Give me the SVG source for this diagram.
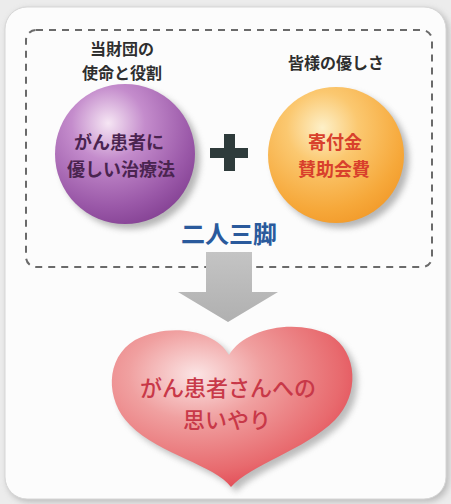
<svg xmlns="http://www.w3.org/2000/svg" width="451" height="504" viewBox="0 0 451 504">
<defs>
<style>
text{font-family:"Noto Sans CJK JP","Noto Sans CJK SC",sans-serif;text-anchor:middle;dominant-baseline:central}
.lbl{font-size:16px;font-weight:700;fill:#2e2e2e}
.pur{font-size:18px;font-weight:700;fill:#4a2450}
.org{font-size:18px;font-weight:700;fill:#d8402c}
.key{font-size:24px;font-weight:700;fill:#2a5a9c}
.hrt{font-size:22px;font-weight:500;fill:#c83848}
</style>
<radialGradient id="gP" cx="0.38" cy="0.28" r="0.75">
<stop offset="0" stop-color="#f6e6f4"/>
<stop offset="0.35" stop-color="#c48ccc"/>
<stop offset="0.8" stop-color="#9a58a8"/>
<stop offset="1" stop-color="#874496"/>
</radialGradient>
<radialGradient id="gO" cx="0.4" cy="0.3" r="0.75">
<stop offset="0" stop-color="#fdf0c8"/>
<stop offset="0.35" stop-color="#fbc870"/>
<stop offset="0.8" stop-color="#f6a83a"/>
<stop offset="1" stop-color="#f29a2a"/>
</radialGradient>
<radialGradient id="gH" cx="0.35" cy="0.3" r="0.8">
<stop offset="0" stop-color="#fbe4e4"/>
<stop offset="0.35" stop-color="#f0a0a0"/>
<stop offset="0.75" stop-color="#e86a6e"/>
<stop offset="1" stop-color="#e03c4a"/>
</radialGradient>
<linearGradient id="gA" x1="0" y1="0" x2="0" y2="1">
<stop offset="0" stop-color="#c4c4c4"/>
<stop offset="1" stop-color="#b0b0b0"/>
</linearGradient>
<filter id="sh" x="-20%" y="-20%" width="150%" height="150%">
<feGaussianBlur stdDeviation="3"/>
</filter>
</defs>
<rect width="451" height="504" fill="#ececec"/>
<rect x="7" y="9" width="442" height="493" rx="22" fill="#9a9a9a" filter="url(#sh)" opacity="0.6"/>
<rect x="5" y="7" width="441" height="492" rx="22" fill="#fcfcfc" stroke="#d6d6d6" stroke-width="1"/>
<rect id="group-box" x="26" y="30" width="406" height="237" rx="10" fill="none" stroke="#6a6a6a" stroke-width="2" stroke-dasharray="7 6"/>
<g id="label-left">
<text class="lbl" x="122" y="48">当財団の</text>
<text class="lbl" x="122" y="72">使命と役割</text>
</g>
<g id="label-right">
<text class="lbl" x="336" y="62">皆様の優しさ</text>
</g>
<g id="node-purple">
<circle cx="130" cy="159" r="70" fill="#888" filter="url(#sh)" opacity="0.6"/>
<circle cx="125" cy="154" r="70" fill="url(#gP)"/>
<text class="pur" x="119" y="141">がん患者に</text>
<text class="pur" x="121" y="168">優しい治療法</text>
</g>
<g id="plus">
<rect x="210" y="148" width="38" height="10" fill="#2e3b3b"/>
<rect x="224" y="134" width="11" height="37" fill="#2e3b3b"/>
</g>
<g id="node-orange">
<circle cx="341" cy="160" r="68" fill="#888" filter="url(#sh)" opacity="0.6"/>
<circle cx="336" cy="155" r="68" fill="url(#gO)"/>
<text class="org" x="335" y="141">寄付金</text>
<text class="org" x="334" y="168">賛助会費</text>
</g>
<g id="label-key">
<text class="key" x="229" y="232">二人三脚</text>
</g>
<g id="connectors">
<path d="M206,252 H252 V292 H278 L228,322 L178,292 H206 Z" fill="url(#gA)"/>
</g>
<g id="node-heart">
<path d="M229,355 C215,330 170,322 135,340 C105,358 105,400 130,425 C160,455 215,465 231,487 C250,465 305,450 335,420 C360,395 358,352 330,335 C295,318 245,328 229,355 Z" fill="#888" filter="url(#sh)" opacity="0.55" transform="translate(5,5)"/>
<path d="M229,355 C215,330 170,322 135,340 C105,358 105,400 130,425 C160,455 215,465 231,487 C250,465 305,450 335,420 C360,395 358,352 330,335 C295,318 245,328 229,355 Z" fill="url(#gH)"/>
<text class="hrt" x="228" y="386">がん患者さんへの</text>
<text class="hrt" x="227" y="418">思いやり</text>
</g>
</svg>
